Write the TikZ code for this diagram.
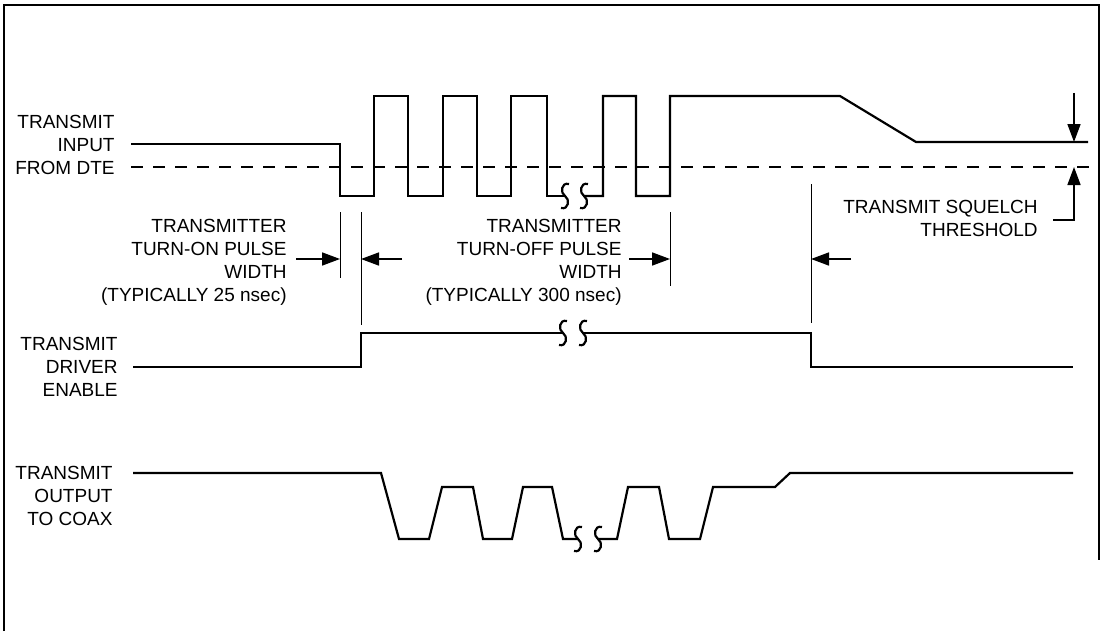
\documentclass[tikz,border=0pt]{standalone}
\usepackage{fontspec}
\setmainfont{Liberation Sans}
\usetikzlibrary{arrows.meta}

\tikzset{
  wave/.style={line width=1.1pt},
  guide/.style={line width=0.5pt},
  dimarrow/.style={line width=0.8pt, -{Triangle[length=9pt,width=6.5pt]}},
  lbl/.style={anchor=east, align=right, inner sep=0pt, font=\fontsize{9.5pt}{11.5pt}\selectfont},
  brk/.pic={\draw[line width=1.1pt] (4,-12) .. controls (-4,-14) and (-5,-3) .. (0,0) .. controls (5,3) and (4,14) .. (-4,12);}
}

\begin{document}
\begin{tikzpicture}[x=0.5pt,y=-0.5pt]
   \useasboundingbox (0,0) rectangle (1101,631);
   \draw[line width=1.3pt] (4,631) -- (4,5) -- (1099,5) -- (1099,560);

   % signal names
   \node[lbl] (txin) at (115,145) {TRANSMIT\\INPUT\\FROM DTE};
   \node[lbl] (drven) at (118,367) {TRANSMIT\\DRIVER\\ENABLE};
   \node[lbl] (txout) at (113,496) {TRANSMIT\\OUTPUT\\TO COAX};
   \node[lbl] (onlbl) at (287,262) {TRANSMITTER\\TURN-ON PULSE\\WIDTH\\(TYPICALLY 25 nsec)};
   \node[lbl] (offlbl) at (622,262) {TRANSMITTER\\TURN-OFF PULSE\\WIDTH\\(TYPICALLY 300 nsec)};
   \node[lbl] (sqlbl) at (1038,218) {TRANSMIT SQUELCH\\THRESHOLD};

   % transmit input
   \draw[wave] (131,144) -- (340,144) -- (340,196) -- (374,196) -- (374,96) -- (408,96)
      -- (408,196) -- (443,196) -- (443,96) -- (477,96) -- (477,196) -- (511,196)
      -- (511,96) -- (547,96) -- (547,196) -- (565,196);
   \draw[wave] (584,196) -- (603,196) -- (603,96) -- (636,96) -- (636,196) -- (670,196)
      -- (670,96) -- (840,96) -- (916,142) -- (1088,142);
   \draw[wave, dash pattern=on 6pt off 5pt] (131,167) -- (1089,167);

   % driver enable
   \draw[wave] (133,367) -- (361,367) -- (361,333) -- (563,333);
   \draw[wave] (583,333) -- (811,333) -- (811,367) -- (1073,367);

   % output to coax
   \draw[wave] (133,473) -- (381,473) -- (399,539) -- (429,539) -- (442,487) -- (473,487)
      -- (483,539) -- (512,539) -- (523,487) -- (552,487) -- (563,539) -- (578,539);
   \draw[wave] (598,539) -- (617,539) -- (628,487) -- (659,487) -- (669,539) -- (700,539)
      -- (713,487) -- (775,487) -- (790,473) -- (1073,473);

   \foreach \x/\y in {565/196, 584/196, 563/333, 583/333, 578/539, 598/539}
      \pic at (\x,\y) {brk};

   % pulse width marks
   \draw[guide] (340,212) -- (340,278);
   \draw[guide] (361,212) -- (361,325);
   \draw[guide] (670,212) -- (670,286);
   \draw[guide] (811,184) -- (811,323);
   \coordinate (on1) at (340,259);
   \coordinate (on2) at (361,259);
   \coordinate (off1) at (670,259);
   \coordinate (off2) at (811,259);
   \draw[dimarrow] ([xshift=4.5pt]onlbl.east |- on1) -- (on1);
   \draw[dimarrow] ([xshift=20.5pt]on2) -- (on2);
   \draw[dimarrow] ([xshift=3.5pt]offlbl.east |- off1) -- (off1);
   \draw[dimarrow] ([xshift=20pt]off2) -- (off2);

   % squelch threshold
   \coordinate (sqtop) at (1074,93);
   \coordinate (sqhi) at (1074,142);
   \coordinate (sqlo) at (1074,167);
   \coordinate (sqbend) at (1074,220);
   \draw[dimarrow] (sqtop) -- (sqhi);
   \draw[dimarrow] ([xshift=7.5pt]sqlbl.east |- sqbend) -- (sqbend) -- (sqlo);
\end{tikzpicture}
\end{document}
